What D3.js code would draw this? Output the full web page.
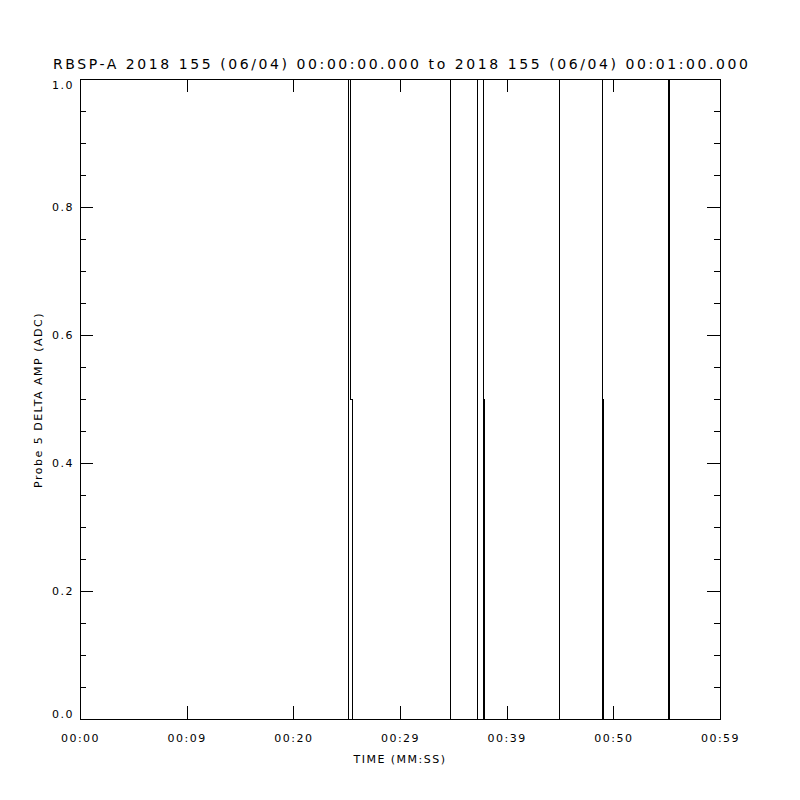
<!DOCTYPE html>
<html>
<head>
<meta charset="utf-8">
<script src="https://cdn.jsdelivr.net/npm/d3@7"></script>
<style>
  body { margin: 0; background: #fff; }
  text { font-family: "DejaVu Sans", sans-serif; fill: #000; }
</style>
</head>
<body>
<svg id="chart" width="800" height="800"></svg>
<script>
// trace samples: time in seconds from 00:00, value in ADC
var times  = [0, 25.20, 25.20, 25.40, 25.40, 25.50, 25.50,
              34.78, 34.78, 37.28, 37.28, 37.80, 37.80, 37.83, 37.83, 37.90, 37.90,
              44.93, 44.93, 48.97, 48.97, 49.03, 49.03, 49.03, 49.10, 49.10,
              55.13, 55.13, 55.22, 55.22, 60];
var values = [0, 0, 1, 1, 0.5, 0.5, 0,
              0, 1, 1, 0, 0, 1, 1, 0.5, 0.5, 0,
              0, 1, 1, 0, 0, 1, 0.5, 0.5, 0,
              0, 1, 1, 0, 0];

var xTicks = [0, 10, 20, 30, 40, 50, 60];
var xTickLabels = ["00:00", "00:09", "00:20", "00:29", "00:39", "00:50", "00:59"];
var yTicks = [0, 0.2, 0.4, 0.6, 0.8, 1.0];
var yMinorTicks = d3.range(0, 1.0001, 0.05);

var title = "RBSP-A 2018 155 (06/04) 00:00:00.000 to 2018 155 (06/04) 00:01:00.000";
var xTitle = "TIME (MM:SS)";
var yTitle = "Probe 5 DELTA AMP (ADC)";

var svg = d3.select("#chart");
var plotLeft = 80, plotRight = 720, plotTop = 79, plotBottom = 719;

var x = d3.scaleLinear().domain([0, 60]).range([plotLeft, plotRight]);
var y = d3.scaleLinear().domain([0, 1]).range([plotBottom, plotTop]);

// data trace
var line = d3.line()
    .x(function(d, i) { return x(times[i]); })
    .y(function(d) { return y(d); });

svg.append("path")
    .datum(values)
    .attr("d", line)
    .attr("fill", "none")
    .attr("stroke", "#000")
    .attr("stroke-width", 1)
    .attr("shape-rendering", "crispEdges");

function styleAxis(g, labels) {
    g.select(".domain").remove();
    g.selectAll("line").attr("stroke", "#000").attr("shape-rendering", "crispEdges");
    if (!labels) g.selectAll("text").remove();
    else g.selectAll("text").attr("font-size", 11).style("letter-spacing", "1.5px")
            .attr("font-family", "DejaVu Sans");
}

// bottom axis, ticks pointing inward
svg.append("g")
    .attr("transform", "translate(0," + plotBottom + ")")
    .call(d3.axisBottom(x).tickValues(xTicks).tickSize(-13).tickPadding(15)
        .tickFormat(function(d, i) { return xTickLabels[i]; }))
    .call(function(g) { styleAxis(g, true); });

// top axis, mirrored ticks
svg.append("g")
    .attr("transform", "translate(0," + plotTop + ")")
    .call(d3.axisTop(x).tickValues(xTicks).tickSize(-13))
    .call(function(g) { styleAxis(g, false); });

// left axis
svg.append("g")
    .attr("transform", "translate(" + plotLeft + ",0)")
    .call(d3.axisLeft(y).tickValues(yMinorTicks).tickSize(-6))
    .call(function(g) { styleAxis(g, false); });
svg.append("g")
    .attr("transform", "translate(" + plotLeft + ",0)")
    .call(d3.axisLeft(y).tickValues(yTicks).tickSize(-13).tickPadding(6)
        .tickFormat(d3.format(".1f")))
    .call(function(g) { styleAxis(g, true); })
    .call(function(g) {
        // end labels are kept inside the axis range, as IDL does
        g.selectAll("text").attr("y", function(d) {
            if (d === 0) return -5;
            if (d === 1) return 6;
            return 0;
        });
    });

// right axis
svg.append("g")
    .attr("transform", "translate(" + plotRight + ",0)")
    .call(d3.axisRight(y).tickValues(yMinorTicks).tickSize(-6))
    .call(function(g) { styleAxis(g, false); });
svg.append("g")
    .attr("transform", "translate(" + plotRight + ",0)")
    .call(d3.axisRight(y).tickValues(yTicks).tickSize(-13))
    .call(function(g) { styleAxis(g, false); });

// frame
svg.append("rect")
    .attr("x", plotLeft + 0.5).attr("y", plotTop + 0.5)
    .attr("width", plotRight - plotLeft).attr("height", plotBottom - plotTop)
    .attr("fill", "none").attr("stroke", "#000")
    .attr("shape-rendering", "crispEdges");

// titles
svg.append("text")
    .attr("x", 400.5).attr("y", 69)
    .attr("text-anchor", "middle")
    .attr("font-size", 14)
    .attr("textLength", 695)
    .attr("lengthAdjust", "spacing")
    .text(title);

svg.append("text")
    .attr("x", 400).attr("y", 763)
    .attr("text-anchor", "middle")
    .attr("font-size", 11)
    .style("letter-spacing", "1.5px")
    .text(xTitle);

svg.append("text")
    .attr("transform", "translate(42,400) rotate(-90)")
    .attr("text-anchor", "middle")
    .attr("font-size", 11)
    .style("letter-spacing", "1.5px")
    .text(yTitle);
</script>
</body>
</html>
